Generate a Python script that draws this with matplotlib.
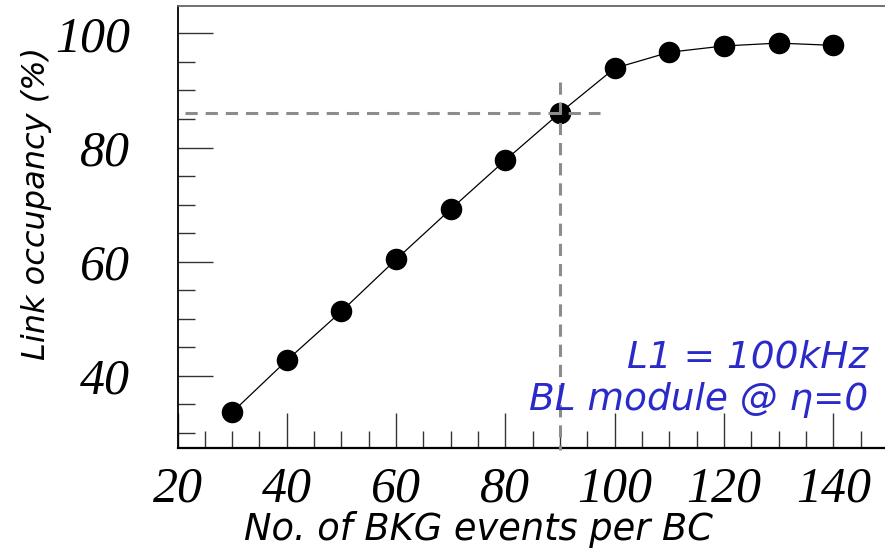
import matplotlib
matplotlib.use("Agg")
import matplotlib.pyplot as plt
from matplotlib.ticker import MultipleLocator

bkg_events = [30, 40, 50, 60, 70, 80, 90, 100, 110, 120, 130, 140]
occupancy = [33.6, 42.7, 51.3, 60.4, 69.2, 77.8, 86.1, 93.9, 96.7, 97.8, 98.3, 97.9]
ref_x = 90
ref_y = 86
x_ticks = [20, 40, 60, 80, 100, 120, 140]
y_ticks = [40, 60, 80, 100]

W, H = 885, 549
fig = plt.figure(figsize=(W / 100, H / 100), dpi=100)
ax = fig.add_axes([177.5 / W, (H - 448.3) / H, (888 - 177.5) / W, (448.3 - 6) / H])

ax.set_xlim(20, 150)
ax.set_ylim(27.3, 104.8)

ax.plot(bkg_events, occupancy, color="black", lw=0.9, marker="o",
        markersize=14.5, markerfacecolor="black", markeredgecolor="black", zorder=3)

dash_kw = dict(color="#8c8c8c", lw=2.2, dashes=(4, 2.6), zorder=4, clip_on=False)
ax.plot([21.3, 97.3], [ref_y, ref_y], **dash_kw)
ax.plot([ref_x, ref_x], [91.5, 27.0], **dash_kw)

ax.xaxis.set_minor_locator(MultipleLocator(5))
ax.yaxis.set_minor_locator(MultipleLocator(5))
ax.set_xticks(x_ticks)
ax.set_yticks(y_ticks)

tick_font = dict(family="Liberation Serif", style="italic", size=36)
ax.set_xticklabels([str(v) for v in x_ticks], fontdict=tick_font)
ax.set_yticklabels([str(v) for v in y_ticks], fontdict=tick_font)

ax.tick_params(axis="both", which="major", direction="in", length=25, width=1.0,
               color="#333333")
ax.tick_params(axis="both", which="minor", direction="in", length=12.5, width=1.0,
               color="#333333")
ax.tick_params(axis="x", which="major", pad=13)
ax.tick_params(axis="y", which="major", pad=34)
ax.tick_params(top=False, right=False, which="both")

ax.spines["left"].set_color("black")
ax.spines["left"].set_linewidth(1.3)
ax.spines["bottom"].set_color("black")
ax.spines["bottom"].set_linewidth(1.6)
ax.spines["top"].set_color("#666666")
ax.spines["top"].set_linewidth(1.3)
ax.spines["right"].set_visible(False)

fig.text(478 / W, (H - 540) / H, "No. of BKG events per BC", ha="center",
         va="baseline", family="DejaVu Sans", style="italic", size=26.5)
fig.text(37 / W, (H - 203) / H, "Link occupancy (%)", ha="center", va="center",
         rotation=90, family="DejaVu Sans", style="italic", size=23)

blue = "#2a2ac8"
fig.text(868 / W, (H - 368) / H, "L1 = 100kHz", ha="right", va="baseline",
         color=blue, family="DejaVu Sans", style="italic", size=27)
fig.text(868 / W, (H - 410) / H, "BL module @ η=0", ha="right", va="baseline",
         color=blue, family="DejaVu Sans", style="italic", size=27)

fig.savefig("out.png", dpi=100)
